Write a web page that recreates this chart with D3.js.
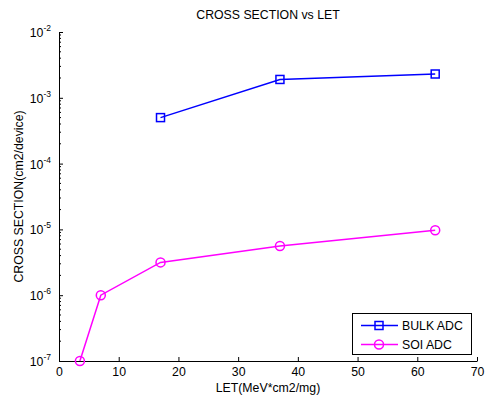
<!DOCTYPE html>
<html>
<head>
<meta charset="utf-8">
<script src="https://cdn.jsdelivr.net/npm/d3@7"></script>
<style>
  html, body { margin: 0; padding: 0; background: #fff; }
  svg { display: block; font-family: "Liberation Sans", Arial, sans-serif; }
</style>
</head>
<body>
<svg id="chart" width="486" height="395"></svg>
<script>
// --- data ---
const bulkLet = [17, 37, 63];
const bulkXs = [5e-4, 1.9e-3, 2.3e-3];
const soiLet = [3.5, 7, 17, 37, 63];
const soiXs = [1e-7, 1e-6, 3.15e-6, 5.6e-6, 9.7e-6];
const xTicks = [0, 10, 20, 30, 40, 50, 60, 70];
const yDecades = [-7, -6, -5, -4, -3, -2];
const seriesNames = ["BULK ADC", "SOI ADC"];

const fs = 12.3;
const svg = d3.select("#chart");
const mLeft = 59, mRight = 477, mTop = 32, mBottom = 361;

const x = d3.scaleLinear().domain([0, 70]).range([mLeft, mRight]);
const y = d3.scaleLog().domain([1e-7, 1e-2]).range([mBottom, mTop]);

// axes (box off, ticks pointing in)
const gx = svg.append("g").attr("transform", `translate(0,${mBottom})`)
  .call(d3.axisBottom(x).tickValues(xTicks).tickSize(-4).tickSizeOuter(0).tickPadding(5));
gx.select(".domain").attr("stroke", "#000");
gx.selectAll("text").attr("font-size", fs).attr("fill", "#000").attr("dy", "0.8em");

const minorVals = [];
for (let e = -7; e < -2; e++) for (let m = 2; m <= 9; m++) minorVals.push(m * Math.pow(10, e));

const gy = svg.append("g").attr("transform", `translate(${mLeft},0)`)
  .call(d3.axisLeft(y).tickValues(yDecades.map(d => Math.pow(10, d))).tickSize(-4).tickSizeOuter(0).tickFormat(""));
gy.select(".domain").attr("stroke", "#000");
gy.selectAll(".tick line").attr("stroke", "#000");

svg.append("g").selectAll("line").data(minorVals).join("line")
  .attr("x1", mLeft).attr("x2", mLeft + 2)
  .attr("y1", d => y(d)).attr("y2", d => y(d))
  .attr("stroke", "#000");

// y tick labels 10^n
const yl = svg.append("g").selectAll("text").data(yDecades).join("text")
  .attr("x", mLeft - 8).attr("y", d => y(Math.pow(10, d)) + 5)
  .attr("text-anchor", "end").attr("font-size", fs);
yl.append("tspan").text("10");
yl.append("tspan").attr("dy", -6).attr("font-size", 8.5).text(d => d);

// labels
svg.append("text").attr("x", (mLeft + mRight) / 2).attr("y", 19)
  .attr("text-anchor", "middle").attr("font-size", fs).text("CROSS SECTION vs LET");
svg.append("text").attr("x", (mLeft + mRight) / 2).attr("y", 391.5)
  .attr("text-anchor", "middle").attr("font-size", fs).text("LET(MeV*cm2/mg)");
svg.append("text").attr("transform", `translate(23,${(mTop + mBottom) / 2}) rotate(-90)`)
  .attr("text-anchor", "middle").attr("font-size", fs).text("CROSS SECTION(cm2/device)");

const line = d3.line().x(d => x(d[0])).y(d => y(d[1]));
const bulk = bulkLet.map((d, i) => [d, bulkXs[i]]);
const soi = soiLet.map((d, i) => [d, soiXs[i]]);

svg.append("path").datum(bulk).attr("d", line)
  .attr("fill", "none").attr("stroke", "#0000ff").attr("stroke-width", 1.5);
svg.append("g").selectAll("rect").data(bulk).join("rect")
  .attr("x", d => x(d[0]) - 4).attr("y", d => y(d[1]) - 4)
  .attr("width", 8).attr("height", 8)
  .attr("fill", "none").attr("stroke", "#0000ff").attr("stroke-width", 1.5);

svg.append("path").datum(soi).attr("d", line)
  .attr("fill", "none").attr("stroke", "#ff00ff").attr("stroke-width", 1.5);
svg.append("g").selectAll("circle").data(soi).join("circle")
  .attr("cx", d => x(d[0])).attr("cy", d => y(d[1])).attr("r", 4.5)
  .attr("fill", "none").attr("stroke", "#ff00ff").attr("stroke-width", 1.5);

// legend
const lg = svg.append("g");
lg.append("rect").attr("x", 352.5).attr("y", 313.5).attr("width", 119).attr("height", 41)
  .attr("fill", "#fff").attr("stroke", "#000");
const colors = ["#0000ff", "#ff00ff"];
seriesNames.forEach((name, i) => {
  const yy = 325.5 + i * 19;
  lg.append("line").attr("x1", 361).attr("x2", 398).attr("y1", yy).attr("y2", yy)
    .attr("stroke", colors[i]).attr("stroke-width", 1.5);
  if (i === 0) {
    lg.append("rect").attr("x", 375).attr("y", yy - 4).attr("width", 8).attr("height", 8)
      .attr("fill", "none").attr("stroke", colors[i]).attr("stroke-width", 1.5);
  } else {
    lg.append("circle").attr("cx", 379).attr("cy", yy).attr("r", 4.5)
      .attr("fill", "none").attr("stroke", colors[i]).attr("stroke-width", 1.5);
  }
  lg.append("text").attr("x", 402).attr("y", yy + 4.5).attr("font-size", fs).text(name);
});
</script>
</body>
</html>
